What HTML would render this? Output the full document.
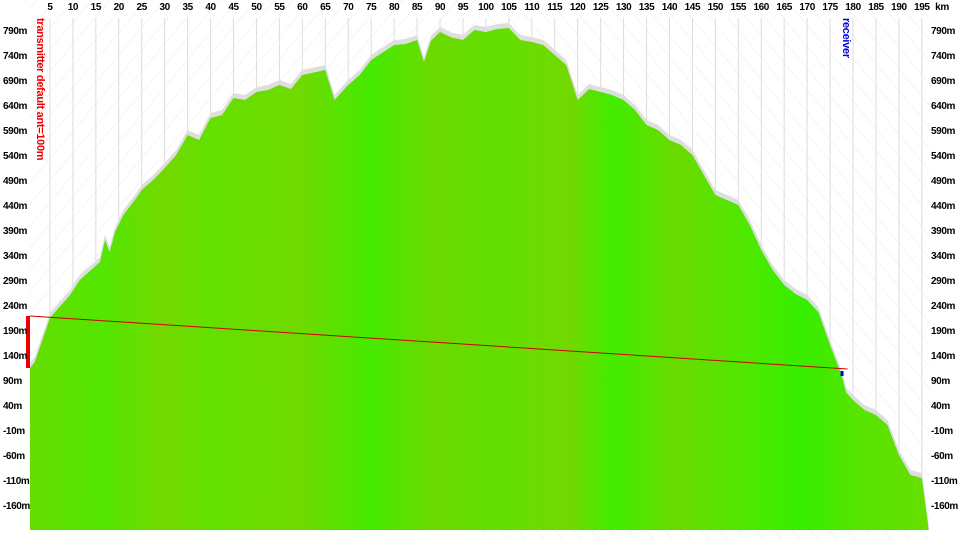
<!DOCTYPE html>
<html><head><meta charset="utf-8"><style>
html,body{margin:0;padding:0;background:#fff;}
svg{display:block;font-family:"Liberation Sans",sans-serif;font-weight:bold;}
</style></head><body>
<svg id="chart" width="960" height="540" viewBox="0 0 960 540" xmlns="http://www.w3.org/2000/svg">
<defs>
<linearGradient id="grn" x1="0" x2="1" y1="0" y2="0">
<stop offset="0" stop-color="#66dc00"/><stop offset="0.08" stop-color="#52e600"/><stop offset="0.15" stop-color="#74d800"/>
<stop offset="0.2" stop-color="#62e000"/><stop offset="0.3" stop-color="#70d900"/><stop offset="0.38" stop-color="#45ea00"/>
<stop offset="0.45" stop-color="#6cd900"/><stop offset="0.52" stop-color="#62df00"/><stop offset="0.6" stop-color="#72d800"/>
<stop offset="0.65" stop-color="#42ec00"/><stop offset="0.72" stop-color="#6ada00"/><stop offset="0.8" stop-color="#4ee800"/>
<stop offset="0.86" stop-color="#36ee00"/><stop offset="0.92" stop-color="#56e400"/><stop offset="1" stop-color="#66de00"/>
</linearGradient>
<pattern id="hl" width="14" height="14" patternUnits="userSpaceOnUse" patternTransform="rotate(40)"><line x1="0" y1="0" x2="0" y2="14" stroke="#ebebeb" stroke-width="1"/></pattern>
<pattern id="hr" width="14" height="14" patternUnits="userSpaceOnUse" patternTransform="rotate(-40)"><line x1="0" y1="0" x2="0" y2="14" stroke="#ebebeb" stroke-width="1"/></pattern>
</defs>
<rect x="30" y="0" width="450" height="530" fill="url(#hl)"/>
<rect x="480" y="0" width="450" height="540" fill="url(#hr)"/>
<g id="grid"></g>
<g id="terrain"></g>
<g id="labels"></g>
</svg>
<script>
const kmTicks = [5,10,15,20,25,30,35,40,45,50,55,60,65,70,75,80,85,90,95,100,105,110,115,120,125,130,135,140,145,150,155,160,165,170,175,180,185,190,195];
const yTicks = [790,740,690,640,590,540,490,440,390,340,290,240,190,140,90,40,-10,-60,-110,-160];
const distKm = [0,1.7,5,6.5,9.4,11.5,15.9,17,18,19.2,21,23.5,25,27.5,30,32.5,35,37.5,40,42.5,45,47.5,50,52.5,55,57.5,60,62.5,65,67,70,72.5,75,77.5,80,82.5,85,86.5,88,90,92.5,95,97.5,100,102.5,105,107.5,110,112.5,115,117.5,120,122.5,125,127.5,130,132.5,135,137.5,140,142.5,145,147.5,150,152.5,155,157.5,160,162.5,165,167.5,170,172.5,175,177.5,178.5,180,182.5,185,187.5,190,192.5,195,196.5];
const elevM = [114,126,214,230,260,290,326,370,346,386,420,450,470,490,514,540,580,570,614,620,654,650,666,670,680,672,700,705,710,650,680,700,730,745,760,762,770,726,768,786,775,770,790,786,792,794,770,766,760,740,720,650,672,666,660,650,630,600,590,570,560,540,500,460,450,440,400,350,310,280,262,250,225,160,100,65,50,30,20,0,-60,-100,-106,-210];
const txElev = 218, rxElev = 110, rxKm = 177.5;

const X0=27, PXKM=4.589, Y0=30, PXM=0.5;
const xS = km => X0 + km*PXKM;
const yS = m => Y0 + (790-m)*PXM;
const NS="http://www.w3.org/2000/svg";
const mk=(t,a,p)=>{const e=document.createElementNS(NS,t);for(const k in a)e.setAttribute(k,a[k]);p.appendChild(e);return e;};
const grid=document.getElementById('grid'), ter=document.getElementById('terrain'), lab=document.getElementById('labels');
const FS=10, LS=-0.4;

kmTicks.forEach(k=>{
  const l=mk('line',{x1:xS(k),x2:xS(k),y1:18,y2:530,stroke:'#dcdcdc','stroke-width':1},grid);
  
  
  const t=mk('text',{x:xS(k),y:10,'text-anchor':'middle','font-size':FS,'letter-spacing':LS,fill:'#000'},lab);
  t.textContent=k;
  
  
});
const km=mk('text',{x:942,y:10,'text-anchor':'middle','font-size':FS,'letter-spacing':LS,fill:'#000'},lab);km.textContent='km';


yTicks.forEach(v=>{
  const a=mk('text',{x:3,y:yS(v)+4,'font-size':FS,'letter-spacing':LS,fill:'#000'},lab);a.textContent=v+'m';
  
  
  const b=mk('text',{x:931,y:yS(v)+4,'font-size':FS,'letter-spacing':LS,fill:'#000'},lab);b.textContent=v+'m';
  
  
});

let pts=distKm.map((d,i)=>[xS(d)<30?30:xS(d),yS(elevM[i])]);
const base=530;
let clut='M'+pts[0][0]+','+base+' '+pts.map(p=>'L'+p[0]+','+(p[1]-5)).join(' ')+' L'+pts[pts.length-1][0]+','+base+'Z';
const c=mk('path',{d:clut,fill:'#dedede'},ter);


let d='M'+pts[0][0]+','+base+' '+pts.map(p=>'L'+p[0]+','+p[1]).join(' ')+' L'+pts[pts.length-1][0]+','+base+'Z';
const g=mk('path',{d:d,fill:'url(#grn)'},ter);



const tx=mk('rect',{x:26,y:yS(txElev),width:4,height:yS(elevM[0])-yS(txElev),fill:'#ee0000'},ter);


const ln=mk('line',{x1:30,y1:yS(txElev),x2:xS(rxKm)+6,y2:yS(rxElev)-1,stroke:'#cc0000','stroke-width':1},ter);


const rx=mk('rect',{x:xS(rxKm)-1,y:yS(rxElev)+1,width:3,height:5,fill:'#0000dd'},ter);



const tl=mk('text',{transform:'translate(37,18) rotate(90)','font-size':11,'letter-spacing':-0.3,fill:'#ee0000'},lab);
tl.textContent='transmitter  default ant=100m';


const rl=mk('text',{transform:'translate(843,18) rotate(90)','font-size':11,'letter-spacing':-0.3,fill:'#0000dd'},lab);
rl.textContent='receiver';


</script>
</body></html>
